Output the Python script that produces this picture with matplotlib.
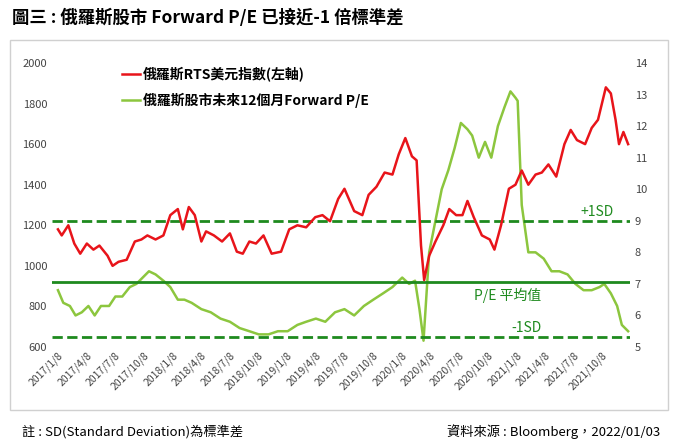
import matplotlib
matplotlib.use("Agg")
import matplotlib.pyplot as plt
import pandas as pd
from matplotlib.patches import Rectangle

plt.rcParams['font.family'] = ['Noto Sans CJK TC', 'DejaVu Sans']

rts_dates = ["2017-01-08","2017-01-20","2017-02-10","2017-03-01","2017-03-20","2017-04-10","2017-05-01","2017-05-20",
 "2017-06-15","2017-07-01","2017-07-20","2017-08-15","2017-09-10","2017-10-01","2017-10-20","2017-11-15","2017-12-10",
 "2018-01-01","2018-01-25","2018-02-10","2018-03-01","2018-03-20","2018-04-10","2018-04-25","2018-05-20","2018-06-15",
 "2018-07-10","2018-08-01","2018-08-20","2018-09-10","2018-10-01","2018-10-25","2018-11-20","2018-12-20",
 "2019-01-15","2019-02-10","2019-03-10","2019-04-08","2019-05-01","2019-05-25","2019-06-20","2019-07-10","2019-08-10",
 "2019-09-05","2019-09-25","2019-10-20","2019-11-15","2019-12-10","2019-12-30","2020-01-20","2020-02-10","2020-02-25",
 "2020-03-10","2020-03-20","2020-04-05","2020-04-25","2020-05-20","2020-06-08","2020-06-30","2020-07-20","2020-08-05",
 "2020-08-25","2020-09-20","2020-10-15","2020-10-30","2020-11-20","2020-12-15","2021-01-05","2021-01-25","2021-02-15",
 "2021-03-10","2021-03-30","2021-04-20","2021-05-15","2021-06-10","2021-06-30","2021-07-20","2021-08-15","2021-09-05",
 "2021-09-25","2021-10-20","2021-11-05","2021-11-20","2021-12-01","2021-12-15","2021-12-30"]
rts_values = [1180,1150,1200,1110,1060,1110,1080,1100,1050,1000,1020,1030,1120,1130,1150,1130,1150,
 1250,1280,1180,1290,1250,1120,1170,1150,1120,1160,1070,1060,1120,1110,1150,1060,1070,
 1180,1200,1190,1240,1250,1220,1330,1380,1270,1250,1350,1390,1460,1450,1550,1630,1540,1520,
 1100,930,1050,1120,1200,1280,1250,1250,1320,1240,1150,1130,1080,1200,1380,1400,1470,1400,
 1450,1460,1500,1440,1600,1670,1620,1600,1680,1720,1880,1850,1720,1600,1660,1600]

pe_dates = ["2017-01-08","2017-01-25","2017-02-15","2017-03-05","2017-03-25","2017-04-15","2017-05-05","2017-05-25",
 "2017-06-20","2017-07-10","2017-08-01","2017-08-25","2017-09-15","2017-10-05","2017-10-25","2017-11-15","2017-12-10",
 "2018-01-01","2018-01-25","2018-02-15","2018-03-10","2018-04-10","2018-05-10","2018-06-10","2018-07-10","2018-08-10",
 "2018-09-10","2018-10-10","2018-11-10","2018-12-10","2019-01-10","2019-02-10","2019-03-10","2019-04-10","2019-05-10",
 "2019-06-10","2019-07-10","2019-08-10","2019-09-10","2019-10-10","2019-11-10","2019-12-10","2020-01-10","2020-02-01",
 "2020-02-20","2020-03-05","2020-03-18","2020-04-05","2020-04-25","2020-05-15","2020-06-05","2020-06-25","2020-07-15",
 "2020-08-05","2020-08-20","2020-09-10","2020-09-30","2020-10-20","2020-11-10","2020-12-01","2020-12-20","2021-01-05",
 "2021-01-12","2021-01-25","2021-02-15","2021-03-10","2021-04-05","2021-04-30","2021-05-25","2021-06-20","2021-07-15",
 "2021-08-10","2021-09-05","2021-09-30","2021-10-15","2021-11-05","2021-11-25","2021-12-10","2021-12-30"]
pe_values = [6.8,6.4,6.3,6.0,6.1,6.3,6.0,6.3,6.3,6.6,6.6,6.9,7.0,7.2,7.4,7.3,7.1,
 6.9,6.5,6.5,6.4,6.2,6.1,5.9,5.8,5.6,5.5,5.4,5.4,5.5,5.5,5.7,5.8,5.9,5.8,
 6.1,6.2,6.0,6.3,6.5,6.7,6.9,7.2,7.0,7.1,6.2,5.2,8.0,9.0,10.0,10.6,11.3,12.1,
 11.9,11.7,11.0,11.5,11.0,12.0,12.6,13.1,12.9,12.8,9.5,8.0,8.0,7.8,7.4,7.4,7.3,7.0,
 6.8,6.8,6.9,7.0,6.7,6.3,5.7,5.5]

sd_plus, pe_mean, sd_minus = 9.0, 7.05, 5.32
tick_dates = [f"{y}-{m:02d}-08" for y in range(2017, 2022) for m in (1, 4, 7, 10)]
tick_labels = [f"{y}/{m}/8" for y in range(2017, 2022) for m in (1, 4, 7, 10)]

fig = plt.figure(figsize=(6.75, 4.46), dpi=100)
fig.patches.append(Rectangle((10/675, 1-410/446), 658/675, 370/446, transform=fig.transFigure,
                             fill=False, edgecolor='#d0d0d0', lw=1))
ax = fig.add_axes([52/675, 1-347/446, 578/675, 284/446])
ax2 = ax.twinx()
l1, = ax.plot(pd.to_datetime(rts_dates), rts_values, color='#e8141a', lw=1.8, zorder=3)
ax.set_ylim(600, 2000)
ax.set_yticks(range(600, 2001, 200))
l2, = ax2.plot(pd.to_datetime(pe_dates), pe_values, color='#8cc63e', lw=1.8)
ax2.set_ylim(5, 14)
ax2.set_yticks(range(5, 15))
for v, ls in ((sd_plus, '--'), (pe_mean, '-'), (sd_minus, '--')):
    ax2.axhline(v, color='#1e8a1e', lw=2, ls=ls)
ax.set_zorder(ax2.get_zorder()+1); ax.patch.set_visible(False)
ax2.text(pd.Timestamp("2021-11-15"), sd_plus+0.15, "+1SD", color='#1e8a1e', fontsize=10, ha='right')
ax2.text(pd.Timestamp("2020-12-10"), pe_mean-0.55, "P/E 平均值", color='#1e8a1e', fontsize=10, ha='center')
ax2.text(pd.Timestamp("2021-02-10"), sd_minus+0.15, "-1SD", color='#1e8a1e', fontsize=10, ha='center')
ax.set_xlim(pd.Timestamp("2016-12-20"), pd.Timestamp("2022-01-05"))
ax.set_xticks(pd.to_datetime(tick_dates))
ax.set_xticklabels(tick_labels, rotation=45, ha='right', rotation_mode='anchor', fontsize=7.5, color='#333')
for a in (ax, ax2):
    for s in a.spines.values(): s.set_visible(False)
    a.tick_params(length=0, labelsize=8, colors='#444')
ax.tick_params(axis='x', labelsize=7.5, pad=2)
ax.legend([l1, l2], ["俄羅斯RTS美元指數(左軸)", "俄羅斯股市未來12個月Forward P/E"], loc='upper left',
          bbox_to_anchor=(0.1, 1.03), frameon=False, handlelength=1.3, handletextpad=0.2,
          labelspacing=0.8, prop={'weight': 'bold', 'size': 10})
fig.text(12/675, 1-18/446, "圖三 : 俄羅斯股市 Forward P/E 已接近-1 倍標準差", fontsize=12.5, weight='bold', va='center')
fig.text(22/675, 1-432/446, "註 : SD(Standard Deviation)為標準差", fontsize=9.5, va='center')
fig.text(660/675, 1-432/446, "資料來源 : Bloomberg，2022/01/03", fontsize=9.5, va='center', ha='right')
fig.savefig("out.png", dpi=100)
